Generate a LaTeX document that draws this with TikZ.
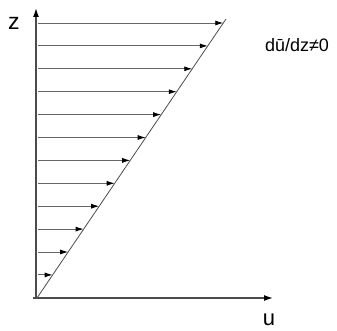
\documentclass[tikz,border=0pt]{standalone}
\usepackage{fontspec}
\setmainfont{Liberation Sans}
\usetikzlibrary{arrows.meta, calc}

\begin{document}
\begin{tikzpicture}[x=1pt, y=1pt,
  axis/.style={line width=1.4pt, draw=black!70, -{Latex[length=9pt,width=6pt,color=black]}},
  vel/.style={line width=0.9pt, draw=black!60, -{Latex[length=8pt,width=5pt,color=black]}},
  profile/.style={line width=0.8pt, draw=black!70}]
\useasboundingbox (0,0) rectangle (337,330);

% Axes
\coordinate (O) at (36,32);
\coordinate (ztip) at (36,322);
\coordinate (utip) at (273,32);
\draw[axis] (33,32) -- (utip);
\draw[axis] (O) -- (ztip);

% Velocity profile
\coordinate (top) at (226,311);
\draw[profile] (37,32) -- (top);

% Velocity arrows
\foreach \k in {0,...,11}{
  \pgfmathsetmacro{\t}{(275-22.9*\k)/279}
  \coordinate (tip\k) at ($(37,32)!\t!(top)$);
  \coordinate (start\k) at (O |- tip\k);
  \draw[vel] ([xshift=2pt]start\k) -- (tip\k);
}

% Labels
\node[font=\fontsize{23}{26}\selectfont] (zlab) at (14,307) {z};
\node[font=\fontsize{22}{24}\selectfont, anchor=base, inner sep=0pt] (ulab) at (269,4.5) {u};
\node[font=\fontsize{18}{21}\selectfont] (grad) at (297,285) {dū/dz≠0};

\end{tikzpicture}
\end{document}
